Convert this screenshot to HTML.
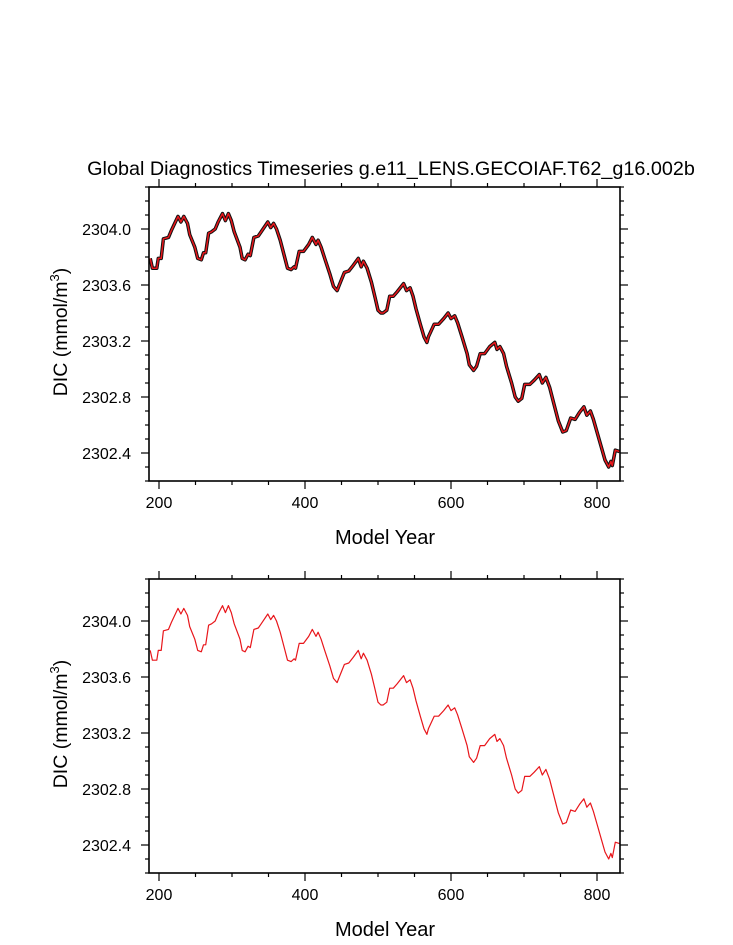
<!DOCTYPE html>
<html><head><meta charset="utf-8"><style>
body{margin:0;background:#fff}
svg{display:block;font-family:"Liberation Sans",Arial,sans-serif}
</style></head><body>
<svg id="chart" width="733" height="945" viewBox="0 0 733 945">
<text x="391" y="175" font-size="19.8" text-anchor="middle">Global Diagnostics Timeseries g.e11_LENS.GECOIAF.T62_g16.002b</text>
<g id="p1"></g>
<g id="p2"></g>
</svg>
<script>
const years = [188,191,197,199,203,206,213,217,226,230,234,239,242,249,253,258,261,264,268,272,277,281,287,291,295,299,303,311,314,318,322,325,330,336,340,349,353,357,361,366,372,376,381,385,387,392,398,405,410,415,418,422,427,434,439,444,447,454,460,466,473,477,480,485,491,496,500,504,507,512,516,521,526,535,539,544,548,552,558,563,567,569,577,583,590,596,600,605,609,615,622,625,631,635,640,646,653,660,663,667,672,676,683,688,692,697,701,708,714,721,725,730,735,740,747,753,758,764,770,776,782,786,791,795,800,806,811,816,819,821,825,831];
const dic = [2303.79,2303.72,2303.72,2303.79,2303.79,2303.93,2303.94,2303.99,2304.09,2304.05,2304.09,2304.04,2303.96,2303.87,2303.79,2303.78,2303.83,2303.83,2303.97,2303.98,2304.00,2304.05,2304.11,2304.06,2304.11,2304.06,2303.98,2303.87,2303.79,2303.78,2303.82,2303.81,2303.94,2303.95,2303.98,2304.05,2304.01,2304.04,2304.00,2303.92,2303.80,2303.72,2303.71,2303.73,2303.72,2303.84,2303.84,2303.89,2303.94,2303.89,2303.92,2303.87,2303.79,2303.68,2303.59,2303.56,2303.60,2303.69,2303.70,2303.74,2303.79,2303.73,2303.77,2303.72,2303.62,2303.51,2303.42,2303.40,2303.40,2303.42,2303.52,2303.52,2303.55,2303.61,2303.56,2303.58,2303.52,2303.43,2303.32,2303.23,2303.19,2303.23,2303.32,2303.32,2303.36,2303.40,2303.36,2303.38,2303.33,2303.23,2303.11,2303.03,2302.99,2303.02,2303.11,2303.11,2303.16,2303.19,2303.14,2303.16,2303.11,2303.02,2302.90,2302.80,2302.77,2302.79,2302.89,2302.89,2302.92,2302.96,2302.90,2302.94,2302.87,2302.77,2302.63,2302.55,2302.56,2302.65,2302.64,2302.69,2302.73,2302.67,2302.70,2302.64,2302.55,2302.44,2302.35,2302.30,2302.34,2302.31,2302.42,2302.41];
const xTicks = [200,400,600,800];
const yTicks = [2302.4,2302.8,2303.2,2303.6,2304.0];
const yTickLabels = ["2302.4","2302.8","2303.2","2303.6","2304.0"];

const NS="http://www.w3.org/2000/svg";
const L=149,R=620,xMin=186.3,xMax=831.5,yMin=2302.2,yMax=2304.3;
function mk(tag,attrs,parent){const e=document.createElementNS(NS,tag);for(const k in attrs)e.setAttribute(k,attrs[k]);parent.appendChild(e);return e;}
function drawPanel(g,top,bottom,withBlack){
  const sx=v=>L+(v-xMin)/(xMax-xMin)*(R-L);
  const sy=v=>bottom-(v-yMin)/(yMax-yMin)*(bottom-top);
  const pts=years.map((y,i)=>sx(y).toFixed(1)+","+sy(dic[i]).toFixed(1)).join(" ");
  if(withBlack){
    const b=mk("polyline",{points:pts,fill:"none",stroke:"#111","stroke-width":3.5,"stroke-linejoin":"round"},g);
    
    
  }
  const r=mk("polyline",{points:pts,fill:"none",stroke:"#e8161b","stroke-width":withBlack?1.5:1.2,"stroke-linejoin":"round"},g);
  
  
  const f=mk("rect",{x:L,y:top,width:R-L,height:bottom-top,fill:"none",stroke:"#000","stroke-width":1.6},g);
  
  
  for(let v=200;v<=xMax;v+=50){
    const x=sx(v),maj=(v%200===0),len=maj?8:4;
    mk("line",{x1:x,x2:x,y1:bottom,y2:bottom+len,stroke:"#000","stroke-width":1.2},g);
    mk("line",{x1:x,x2:x,y1:top,y2:top-len,stroke:"#000","stroke-width":1.2},g);
  }
  xTicks.forEach(v=>{
    const t=mk("text",{x:sx(v),y:bottom+27,"font-size":16,"text-anchor":"middle"},g);t.textContent=v;
    
    
  });
  for(let k=0;k<=21;k++){
    const v=yMin+k*0.1;if(v>yMax+1e-6)break;
    const y=sy(v),maj=(k%4===2),len=maj?8:4;
    mk("line",{x1:L,x2:L-len,y1:y,y2:y,stroke:"#000","stroke-width":1.2},g);
    mk("line",{x1:R,x2:R+len,y1:y,y2:y,stroke:"#000","stroke-width":1.2},g);
  }
  yTicks.forEach((v,i)=>{
    const t=mk("text",{x:131,y:sy(v)+6,"font-size":16,"text-anchor":"end"},g);t.textContent=yTickLabels[i];
    
    
  });
  const xt=mk("text",{x:385,y:bottom+63,"font-size":20,"text-anchor":"middle"},g);xt.textContent="Model Year";
  
  
  const cy=(top+bottom)/2-2;
  const yt=mk("text",{x:67,y:cy,"font-size":19.5,"text-anchor":"middle",transform:`rotate(-90 67 ${cy})`},g);
  yt.innerHTML='DIC (mmol/m<tspan dy="-8" font-size="13">3</tspan><tspan dy="8">)</tspan>';
  
  
}
drawPanel(document.getElementById("p1"),187,481,true);
drawPanel(document.getElementById("p2"),579,873,false);
</script>
</body></html>
